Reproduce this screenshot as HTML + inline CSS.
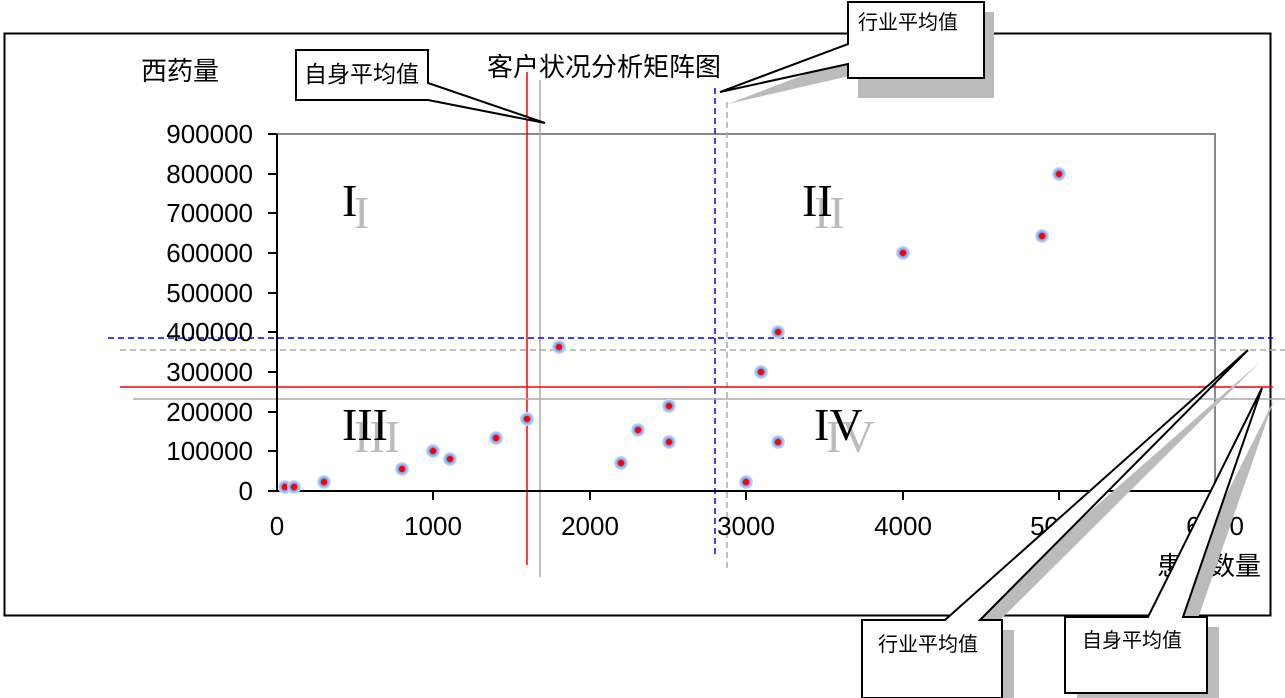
<!DOCTYPE html>
<html><head><meta charset="utf-8"><style>
html,body{margin:0;padding:0;background:#fff;}
svg{display:block;}
.t{font-family:"Liberation Sans","Noto Sans CJK SC",sans-serif;}
.r{font-family:"Liberation Serif",serif;font-size:46px;}
</style></head><body>
<svg width="1285" height="698" viewBox="0 0 1285 698" xmlns="http://www.w3.org/2000/svg">
<defs>
<radialGradient id="g"><stop offset="0.4" stop-color="#ff0000"/><stop offset="0.5" stop-color="#6f9ff0"/><stop offset="1" stop-color="#d6e4fb"/></radialGradient>
</defs>
<rect x="4.5" y="33.5" width="1266" height="582" fill="#fff" stroke="#000" stroke-width="2"/>
<polyline points="277,134 1215,134 1215,491" fill="none" stroke="#888" stroke-width="2"/>
<line x1="527" y1="72" x2="527" y2="565" stroke="#f00" stroke-width="1.5"/>
<line x1="540" y1="80" x2="540" y2="577" stroke="#aaa" stroke-width="1.5"/>
<line x1="715" y1="88" x2="715" y2="558" stroke="#00f" stroke-width="1.5" stroke-dasharray="6,4"/>
<line x1="727" y1="102" x2="727" y2="570" stroke="#aaa" stroke-width="1.5" stroke-dasharray="6,4"/>
<line x1="108" y1="338" x2="1273" y2="338" stroke="#00f" stroke-width="1.5" stroke-dasharray="6,4"/>
<line x1="120" y1="350" x2="1285" y2="350" stroke="#aaa" stroke-width="1.5" stroke-dasharray="6,4"/>
<line x1="120" y1="387" x2="1273" y2="387" stroke="#f00" stroke-width="1.5"/>
<line x1="133" y1="399" x2="1285" y2="399" stroke="#aaa" stroke-width="1.5"/>
<g stroke="#000" stroke-width="2">
<line x1="277" y1="134" x2="277" y2="491"/>
<line x1="277" y1="491" x2="1215" y2="491"/>
<line x1="268" y1="134" x2="277" y2="134"/><line x1="268" y1="174" x2="277" y2="174"/>
<line x1="268" y1="213" x2="277" y2="213"/><line x1="268" y1="253" x2="277" y2="253"/>
<line x1="268" y1="293" x2="277" y2="293"/><line x1="268" y1="332" x2="277" y2="332"/>
<line x1="268" y1="372" x2="277" y2="372"/><line x1="268" y1="412" x2="277" y2="412"/>
<line x1="268" y1="451" x2="277" y2="451"/><line x1="268" y1="491" x2="277" y2="491"/>
<line x1="433" y1="491" x2="433" y2="500"/><line x1="590" y1="491" x2="590" y2="500"/>
<line x1="746" y1="491" x2="746" y2="500"/><line x1="903" y1="491" x2="903" y2="500"/>
<line x1="1059" y1="491" x2="1059" y2="500"/><line x1="1215" y1="491" x2="1215" y2="500"/>
</g>
<g class="t" font-size="26" text-anchor="end" fill="#000">
<text x="253" y="143">900000</text><text x="253" y="183">800000</text>
<text x="253" y="222">700000</text><text x="253" y="262">600000</text>
<text x="253" y="302">500000</text><text x="253" y="341">400000</text>
<text x="253" y="381">300000</text><text x="253" y="421">200000</text>
<text x="253" y="460">100000</text><text x="253" y="500">0</text>
</g>
<g class="t" font-size="26" text-anchor="middle">
<text x="277" y="535">0</text><text x="433" y="535">1000</text><text x="590" y="535">2000</text>
<text x="746" y="535">3000</text><text x="903" y="535">4000</text><text x="1059" y="535">5000</text><text x="1215" y="535">6000</text>
</g>
<text class="t" x="141" y="80" font-size="26">西药量</text>
<text class="t" x="487" y="76" font-size="26">客户状况分析矩阵图</text>
<text class="t" x="1157" y="575" font-size="26">患者数量</text>
<g class="r">
<text x="354" y="228" fill="#bbb">I</text><text x="342" y="216" fill="#000">I</text>
<text x="814" y="228" fill="#bbb">II</text><text x="802" y="216" fill="#000">II</text>
<text x="354" y="452" fill="#bbb">III</text><text x="342" y="440" fill="#000">III</text>
<text x="826" y="452" fill="#bbb">IV</text><text x="814" y="440" fill="#000">IV</text>
</g>
<g fill="url(#g)">
<circle cx="285" cy="487" r="7"/><circle cx="294" cy="487" r="7"/><circle cx="324" cy="482" r="7"/>
<circle cx="402" cy="469" r="7"/><circle cx="433" cy="451" r="7"/><circle cx="450" cy="459" r="7"/>
<circle cx="496" cy="438" r="7"/><circle cx="527" cy="419" r="7"/><circle cx="559" cy="347" r="7"/>
<circle cx="621" cy="463" r="7"/><circle cx="638" cy="430" r="7"/><circle cx="669" cy="406" r="7"/>
<circle cx="669" cy="442" r="7"/><circle cx="746" cy="482" r="7"/><circle cx="761" cy="372" r="7"/>
<circle cx="778" cy="332" r="7"/><circle cx="778" cy="442" r="7"/><circle cx="903" cy="253" r="7"/>
<circle cx="1042" cy="236" r="7"/><circle cx="1059" cy="174" r="7"/>
</g>
<!-- callout top-left -->
<polygon points="296,50 428,50 428,83 545,123 428,100 296,100" fill="#fff" stroke="#000" stroke-width="2"/>
<text class="t" x="304" y="82" font-size="23">自身平均值</text>
<!-- callout top-right -->
<polygon points="858,12 994,12 994,98 858,98 858,74 728,104 858,54" fill="#bbb"/>
<polygon points="848,2 984,2 984,78 848,78 848,64 720,92 848,44" fill="#fff" stroke="#000" stroke-width="2"/>
<text class="t" x="858" y="29" font-size="20">行业平均值</text>
<!-- bottom callouts -->
<polygon points="872,630 955,630 1260,362 990,630 1014,630 1014,708 872,708" fill="#bbb"/>
<polygon points="862,620 945,620 1248,350 980,620 1002,620 1002,698 862,698" fill="#fff" stroke="#000" stroke-width="2"/>
<text class="t" x="878" y="651" font-size="20">行业平均值</text>
<polygon points="1077,627 1160,627 1274,400 1195,627 1219,627 1219,705 1077,705" fill="#bbb"/>
<polygon points="1065,617 1148,617 1262,388 1183,617 1207,617 1207,693 1065,693" fill="#fff" stroke="#000" stroke-width="2"/>
<text class="t" x="1082" y="647" font-size="20">自身平均值</text>
</svg>
</body></html>
